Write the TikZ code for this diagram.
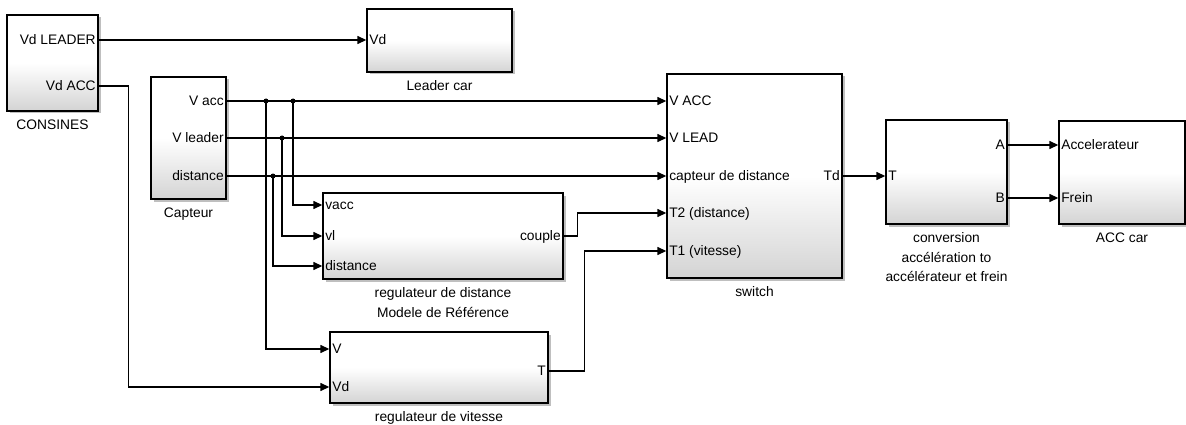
\documentclass[tikz,border=0pt]{standalone}
\usepackage{fontspec}
\setmainfont{Liberation Sans}
\usetikzlibrary{positioning, arrows.meta, shadows}

\begin{document}
\begin{tikzpicture}[x=1pt, y=-1pt, font=\fontsize{13.8}{19.5}\selectfont]

\tikzstyle{block} = [rectangle, draw=black, line width=1.4pt, top color=white, bottom color=black!17, middle color=white, drop shadow={shadow xshift=2.5pt, shadow yshift=-2.5pt, fill=black!50}]
\tikzstyle{inport} = [anchor=west, inner xsep=3pt, inner ysep=0pt, outer sep=0pt, text height=9.9pt, text depth=0pt]
\tikzstyle{outport} = [inport, anchor=east]
\tikzstyle{caption} = [inner sep=0pt, align=center]
\tikzstyle{wire} = [-{Triangle[length=9pt, width=8pt]}, line width=1.4pt]
\tikzstyle{joint} = [circle, fill=black, inner sep=0pt, minimum size=5pt]

\useasboundingbox (0,0) rectangle (1186,425);

% Sources
\node[block, minimum width=91pt, minimum height=96pt] (cons) at (52.5,63) {};
\node[outport] (consvdl) at (cons.east |- 0,40) {Vd LEADER};
\node[outport] (consvda) at (cons.east |- 0,86) {Vd ACC};
\node[caption, below=8pt of cons] (consname) {CONSINES};

\node[block, minimum width=145pt, minimum height=63pt] (lead) at (439.5,40.5) {};
\node[inport] (leadvd) at (lead.west |- 0,40) {Vd};
\node[caption, below=8pt of lead] (leadname) {Leader car};

\node[block, minimum width=75pt, minimum height=122pt] (capt) at (188.5,138) {};
\node[outport] (captvacc) at (capt.east |- 0,101) {V acc};
\node[outport] (captvl) at (capt.east |- 0,138) {V leader};
\node[outport] (captdist) at (capt.east |- 0,176) {distance};
\node[caption, below=8pt of capt] (captname) {Capteur};

% Regulators
\node[block, minimum width=240pt, minimum height=86pt] (regd) at (443,236) {};
\node[inport] (regdvacc) at (regd.west |- 0,205) {vacc};
\node[inport] (regdvl) at (regd.west |- 0,236) {vl};
\node[inport] (regddist) at (regd.west |- 0,266) {distance};
\node[outport] (regdcpl) at (regd.east |- 0,236) {couple};
\node[caption, below=8pt of regd] (regdname) {regulateur de distance\\Modele de Référence};

\node[block, minimum width=218pt, minimum height=71pt] (regv) at (439,367.5) {};
\node[inport] (regvv) at (regv.west |- 0,349) {V};
\node[inport] (regvvd) at (regv.west |- 0,387) {Vd};
\node[outport] (regvt) at (regv.east |- 0,371) {T};
\node[caption, below=8pt of regv] (regvname) {regulateur de vitesse};

% Switch and actuators
\node[block, minimum width=175pt, minimum height=204pt] (sw) at (754.5,176) {};
\node[inport] (swvacc) at (sw.west |- 0,101) {V ACC};
\node[inport] (swvlead) at (sw.west |- 0,138) {V LEAD};
\node[inport] (swdist) at (sw.west |- 0,176) {capteur de distance};
\node[inport] (swt2) at (sw.west |- 0,213) {T2 (distance)};
\node[inport] (swt1) at (sw.west |- 0,251) {T1 (vitesse)};
\node[outport] (swtd) at (sw.east |- 0,176) {Td};
\node[caption, below=8pt of sw] (swname) {switch};

\node[block, minimum width=121pt, minimum height=104pt] (conv) at (946.5,172) {};
\node[inport] (convt) at (conv.west |- 0,176) {T};
\node[outport] (conva) at (conv.east |- 0,145) {A};
\node[outport] (convb) at (conv.east |- 0,198) {B};
\node[caption, below=8pt of conv] (convname) {conversion\\accélération to\\accélérateur et frein};

\node[block, minimum width=126pt, minimum height=103pt] (acc) at (1122,172.5) {};
\node[inport] (accacc) at (acc.west |- 0,145) {Accelerateur};
\node[inport] (accfrein) at (acc.west |- 0,198) {Frein};
\node[caption, below=8pt of acc] (accname) {ACC car};

% Branch points
\node[joint] (ja) at (266,0 |- captvacc.east) {};
\node[joint] (jb) at (293,0 |- captvacc.east) {};
\node[joint] (jc) at (282,0 |- captvl.east) {};
\node[joint] (jd) at (273,0 |- captdist.east) {};

% Wires
\draw[wire] (consvdl.east) -- (leadvd.west);
\draw[wire] (consvda.east) -- ++(30,0) |- (regvvd.west);
\draw[wire] (captvacc.east) -- (swvacc.west);
\draw[wire] (captvl.east) -- (swvlead.west);
\draw[wire] (captdist.east) -- (swdist.west);
\draw[wire] (ja.center) |- (regvv.west);
\draw[wire] (jb.center) |- (regdvacc.west);
\draw[wire] (jc.center) |- (regdvl.west);
\draw[wire] (jd.center) |- (regddist.west);
\draw[wire] (regdcpl.east) -- ++(14,0) |- (swt2.west);
\draw[wire] (regvt.east) -- ++(36,0) |- (swt1.west);
\draw[wire] (swtd.east) -- (convt.west);
\draw[wire] (conva.east) -- (accacc.west);
\draw[wire] (convb.east) -- (accfrein.west);

\end{tikzpicture}
\end{document}
